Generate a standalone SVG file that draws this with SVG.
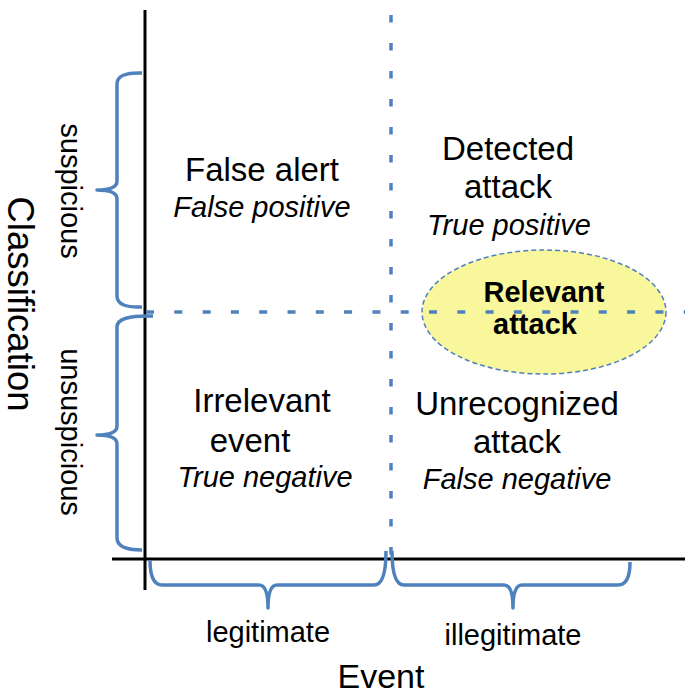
<svg xmlns="http://www.w3.org/2000/svg" width="685" height="695" viewBox="0 0 685 695">
  <style>
    .lbl { font-family: "Liberation Sans", Arial, sans-serif; fill: #000; text-anchor: middle; }
    .big { font-size: 33px; }
    .sub { font-size: 29px; font-style: italic; }
    .side { font-size: 29px; }
    .title { font-size: 34px; }
    .ytitle { font-size: 36.5px; }
    .bold { font-size: 29px; font-weight: bold; }
    .axis { stroke: #000; stroke-width: 3; fill: none; }
    .grid { stroke: #4f81bd; stroke-width: 3.5; fill: none; }
    .brace { stroke: #4f81bd; stroke-width: 3.5; fill: none; stroke-linejoin: round; stroke-linecap: butt; }
  </style>

  <rect width="685" height="695" fill="#fff"/>

  <!-- highlighted region -->
  <g id="relevant-attack">
    <ellipse cx="544" cy="312" rx="122" ry="62" fill="#f9f79b" stroke="#4f81bd" stroke-width="1.5" stroke-dasharray="5 3"/>
  </g>

  <!-- axes, quadrant dividers and braces -->
  <g id="connectors">
    <line class="axis" x1="145" y1="10" x2="145" y2="590"/>
    <line class="axis" x1="112" y1="559" x2="685" y2="559"/>
    <line class="grid" x1="391" y1="15" x2="391" y2="558" stroke-dasharray="7.5 20.5"/>
    <line class="grid" x1="146" y1="312" x2="685" y2="312" stroke-dasharray="8 20.3"/>

    <!-- classification braces -->
    <path class="brace" d="M142,73 Q117,72 117,84 L117,181 Q117,190 97,190 Q117,190 117,199 L117,296 Q117,308 142,307"/>
    <path class="brace" d="M153,316 Q117,315 117,327 L117,426 Q117,435 97,435 Q117,435 117,444 L117,538 Q117,550 142,550"/>

    <!-- event braces -->
    <path class="brace" d="M150,560 Q150,585 162,585 L259,585 Q268,585 268,608 Q268,585 277,585 L374,585 Q386,585 386,551"/>
    <path class="brace" d="M392,551 Q392,585 404,585 L504,585 Q513,585 513,608 Q513,585 522,585 L618,585 Q630,585 630,562"/>
  </g>

  <!-- quadrant nodes -->
  <g id="false-alert">
    <text class="lbl big" x="262" y="181">False alert</text>
    <text class="lbl sub" x="262" y="217">False positive</text>
  </g>
  <g id="detected-attack">
    <text class="lbl big" x="508" y="160">Detected</text>
    <text class="lbl big" x="508" y="198">attack</text>
    <text class="lbl sub" x="509" y="235">True positive</text>
  </g>
  <g id="relevant-attack-label">
    <text class="lbl bold" x="544" y="302">Relevant</text>
    <text class="lbl bold" x="535" y="334">attack</text>
  </g>
  <g id="irrelevant-event">
    <text class="lbl big" x="262" y="412">Irrelevant</text>
    <text class="lbl big" x="250" y="452">event</text>
    <text class="lbl sub" x="265" y="487">True negative</text>
  </g>
  <g id="unrecognized-attack">
    <text class="lbl big" x="517" y="415">Unrecognized</text>
    <text class="lbl big" x="517" y="453">attack</text>
    <text class="lbl sub" x="517" y="489">False negative</text>
  </g>

  <!-- axis labels -->
  <g id="axis-labels">
    <text class="lbl side" transform="translate(61,191) rotate(90)">suspicious</text>
    <text class="lbl side" transform="translate(61,432) rotate(90)">unsuspicious</text>
    <text class="lbl ytitle" transform="translate(8,304) rotate(90)">Classification</text>
    <text class="lbl side" x="268" y="642">legitimate</text>
    <text class="lbl side" x="513" y="645">illegitimate</text>
    <text class="lbl title" x="381" y="688">Event</text>
  </g>
</svg>
